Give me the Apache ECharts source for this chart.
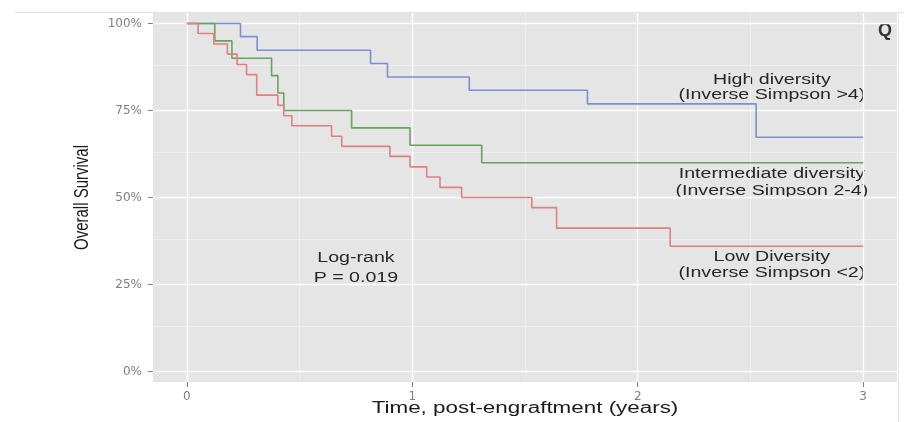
<!DOCTYPE html>
<html><head><meta charset="utf-8">
<script src="https://cdn.jsdelivr.net/npm/echarts@6/dist/echarts.min.js"></script>
<style>html,body{margin:0;padding:0;background:#fff}#c{width:904px;height:422px}</style>
</head><body><div id="c"></div>
<script>
// ---- data ----
const timeTicks = [0, 1, 2, 3];
const timeMinor = [0.5, 1.5, 2.5];
const survTicks = [0, 0.25, 0.5, 0.75, 1];
const survMinor = [0.125, 0.375, 0.625, 0.875];

const highTime = [0, 0.238, 0.312, 0.815, 0.89, 1.253, 1.777, 2.525, 3.0];
const highSurv = [1, 0.962, 0.923, 0.885, 0.846, 0.808, 0.769, 0.673, 0.673];

const interTime = [0, 0.124, 0.2, 0.376, 0.404, 0.43, 0.731, 0.99, 1.308, 3.0];
const interSurv = [1, 0.95, 0.90, 0.85, 0.80, 0.75, 0.70, 0.65, 0.60, 0.60];

const lowTime = [0, 0.05, 0.12, 0.18, 0.223, 0.265, 0.31, 0.404, 0.43, 0.466, 0.642, 0.687, 0.901, 0.99, 1.064, 1.123, 1.219, 1.53, 1.64, 2.144, 3.0];
const lowSurv = [1, 0.971, 0.941, 0.912, 0.882, 0.853, 0.794, 0.765, 0.735, 0.706, 0.676, 0.647, 0.618, 0.588, 0.559, 0.529, 0.500, 0.471, 0.412, 0.360, 0.360];

const highLabel = ["High diversity", "(Inverse Simpson >4)"];
const interLabel = ["Intermediate diversity", "(Inverse Simpson 2-4)"];
const lowLabel = ["Low Diversity", "(Inverse Simpson <2)"];
const testLabel = ["Log-rank", "P = 0.019"];
const xTitle = "Time, post-engraftment (years)";
const yTitle = "Overall Survival";

// ---- chart ----
const zip = (a, b) => a.map((v, i) => [v, b[i]]);
const chart = echarts.init(document.getElementById('c'), null, {renderer: 'canvas'});
const tickLabelStyle = {color: '#7f7f7f', fontSize: 12, fontFamily: 'DejaVu Sans'};

const gridLines = [];
const minorStyle = {color: '#f1f1f1', width: 0.8, type: 'solid'};
const majorStyle = {color: '#ffffff', width: 1.4, type: 'solid'};
timeMinor.forEach(v => gridLines.push({xAxis: v, lineStyle: minorStyle}));
survMinor.forEach(v => gridLines.push({yAxis: v, lineStyle: minorStyle}));
timeTicks.forEach(v => gridLines.push({xAxis: v, lineStyle: majorStyle}));
survTicks.forEach(v => gridLines.push({yAxis: v, lineStyle: majorStyle}));

function stepSeries(name, t, s, color) {
  return {
    name, type: 'line', step: 'end', data: zip(t, s), showSymbol: false, symbol: 'none',
    lineStyle: {color, width: 1.6}, z: 5, silent: true, animation: false
  };
}

chart.setOption({
  animation: false,
  backgroundColor: '#ffffff',
  grid: {left: 153, right: 7, top: 13, bottom: 40, show: true, backgroundColor: '#e5e5e5', borderWidth: 0},
  xAxis: {
    type: 'value', min: -0.15, max: 3.15,
    axisLine: {show: false, onZero: false},
    axisTick: {show: true, length: 5, customValues: timeTicks, lineStyle: {color: '#7f7f7f'}},
    axisLabel: {customValues: timeTicks, margin: 9, ...tickLabelStyle},
    splitLine: {show: false}
  },
  yAxis: {
    type: 'value', min: -0.03, max: 1.03,
    axisLine: {show: false, onZero: false},
    axisTick: {show: true, length: 5, customValues: survTicks, lineStyle: {color: '#7f7f7f'}},
    axisLabel: {customValues: survTicks, margin: 11, formatter: v => Math.round(v * 100) + '%', ...tickLabelStyle},
    splitLine: {show: false}
  },
  series: [
    {type: 'line', data: [], z: 1, silent: true,
     markLine: {silent: true, symbol: 'none', label: {show: false}, animation: false, data: gridLines}},
    stepSeries('High', highTime, highSurv, '#7d8fd0'),
    stepSeries('Intermediate', interTime, interSurv, '#66a45c'),
    stepSeries('Low', lowTime, lowSurv, '#e08080')
  ]
});

const SX = 1.4;
function block(lines, t, s, gap, align) {
  const p = chart.convertToPixel({gridIndex: 0}, [t, s]);
  return lines.map((txt, i) => ({
    type: 'text', x: p[0], y: p[1] + i * gap, scaleX: SX, silent: true,
    style: {text: txt, fontSize: 14, fontFamily: 'Liberation Sans', fill: '#262626', align: align || 'center', verticalAlign: 'middle'}
  }));
}
const g = [];
g.push(...block(highLabel, 2.595, 0.838, 15.5));
g.push(...block(interLabel, 2.595, 0.568, 17));
g.push(...block(lowLabel, 2.595, 0.329, 16));
g.push(...block(testLabel, 0.75, 0.326, 20));
const c0 = chart.convertToPixel({gridIndex: 0}, [-0.15, 0]);
const c1 = chart.convertToPixel({gridIndex: 0}, [3.15, 0]);
g.push({type: 'text', x: (c0[0] + c1[0]) / 2, y: 409, scaleX: SX, silent: true,
  style: {text: xTitle, fontSize: 16, fontFamily: 'Liberation Sans', fill: '#1a1a1a', align: 'center', verticalAlign: 'middle'}});
const m0 = chart.convertToPixel({gridIndex: 0}, [0, 0.5]);
g.push({type: 'text', x: 82, y: m0[1], rotation: Math.PI / 2, scaleY: SX, silent: true,
  style: {text: yTitle, fontSize: 15, fontFamily: 'Liberation Sans', fill: '#1a1a1a', align: 'center', verticalAlign: 'middle'}});
g.push({type: 'line', silent: true, shape: {x1: 15, y1: 12.5, x2: 904, y2: 12.5}, style: {stroke: '#e4e4e4', lineWidth: 1}});
g.push({type: 'line', silent: true, shape: {x1: 898.5, y1: 13, x2: 898.5, y2: 422}, style: {stroke: '#e4e4e4', lineWidth: 1}});
g.push({type: 'text', x: 878, y: 31, silent: true,
  style: {text: 'Q', fontSize: 18, fontWeight: 'bold', fontFamily: 'Liberation Sans', fill: '#333', align: 'left', verticalAlign: 'middle'}});
chart.setOption({graphic: g});
</script>
</body></html>
